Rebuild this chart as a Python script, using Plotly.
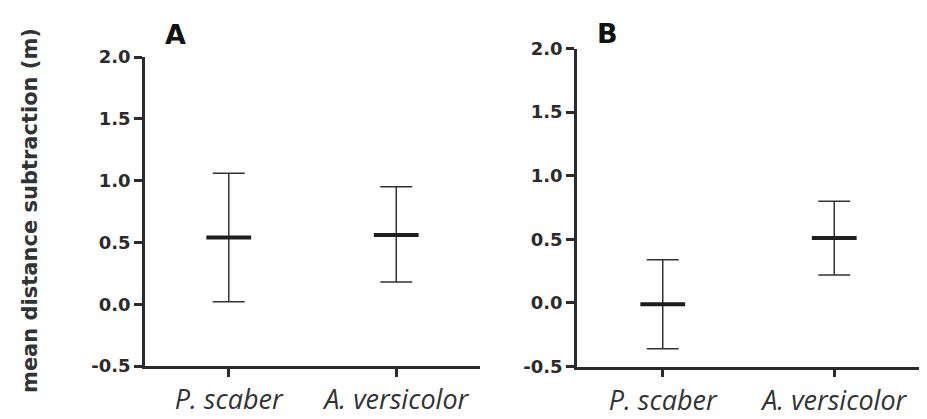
import plotly.graph_objects as go

species = ["P. scaber", "A. versicolor"]

# Panel A
a_mean = [0.54, 0.56]
a_upper = [1.06, 0.95]
a_lower = [0.02, 0.18]

# Panel B
b_mean = [-0.01, 0.51]
b_upper = [0.34, 0.80]
b_lower = [-0.36, 0.22]

y_ticks = [-0.5, 0.0, 0.5, 1.0, 1.5, 2.0]
y_ticktext = ["-0.5", "0.0", "0.5", "1.0", "1.5", "2.0"]

OFF = 8  # page body margin
W, H = 927 - OFF, 419 - OFF
INK = "#2b2b2b"


def px(x):
    return (x - OFF) / W


def py(y):
    return 1 - (y - OFF) / H


def trace(mean, upper, lower, xa, ya):
    return go.Scatter(
        x=species, y=mean, xaxis=xa, yaxis=ya, mode="markers",
        marker=dict(symbol="line-ew", size=32,
                    line=dict(width=4, color="#1e1e1e")),
        error_y=dict(type="data", symmetric=False,
                     array=[u - m for u, m in zip(upper, mean)],
                     arrayminus=[m - l for m, l in zip(mean, lower)],
                     thickness=1.5, width=16, color="#333333"),
        showlegend=False, hoverinfo="skip",
    )


fig = go.Figure()
fig.add_trace(trace(a_mean, a_upper, a_lower, "x", "y"))
fig.add_trace(trace(b_mean, b_upper, b_lower, "x2", "y2"))

xcommon = dict(type="category", range=[-0.5, 1.5], showline=True, linewidth=2.5,
               linecolor=INK, ticks="outside", ticklen=8, tickwidth=2.5,
               tickcolor=INK, showgrid=False, zeroline=False, automargin=False,
               tickfont=dict(family="Open Sans", size=27, color="#333333",
                             style="italic"))
ycommon = dict(range=[-0.5, 2.0], tickvals=y_ticks, ticktext=y_ticktext,
               showline=True, linewidth=2.5, linecolor=INK, ticks="outside",
               ticklen=8, tickwidth=2.5, tickcolor=INK, showgrid=False,
               zeroline=False, automargin=False,
               tickfont=dict(family="DejaVu Sans", size=18, color=INK,
                             weight="bold"))

fig.update_layout(
    width=W, height=H, margin=dict(l=0, r=0, t=0, b=0),
    paper_bgcolor="white", plot_bgcolor="white",
    xaxis=dict(xcommon, domain=[px(145), px(480)], anchor="y"),
    yaxis=dict(ycommon, domain=[py(366), py(57)], anchor="x"),
    xaxis2=dict(xcommon, domain=[px(577), px(920)], anchor="y2"),
    yaxis2=dict(ycommon, domain=[py(366.5), py(48.5)], anchor="x2"),
    annotations=[
        dict(text="mean distance subtraction (m)", xref="paper", yref="paper",
             x=px(30), y=py(211), textangle=-90, showarrow=False,
             xanchor="center", yanchor="middle",
             font=dict(family="DejaVu Sans", size=21, color="#333333", weight="bold")),
        dict(text="A", xref="paper", yref="paper", x=px(175), y=py(34),
             showarrow=False, xanchor="center", yanchor="middle",
             font=dict(family="DejaVu Sans", size=27, color="#111111", weight="bold")),
        dict(text="B", xref="paper", yref="paper", x=px(607), y=py(33.5),
             showarrow=False, xanchor="center", yanchor="middle",
             font=dict(family="DejaVu Sans", size=27, color="#111111", weight="bold")),
    ],
)

fig.write_html("out.html")
